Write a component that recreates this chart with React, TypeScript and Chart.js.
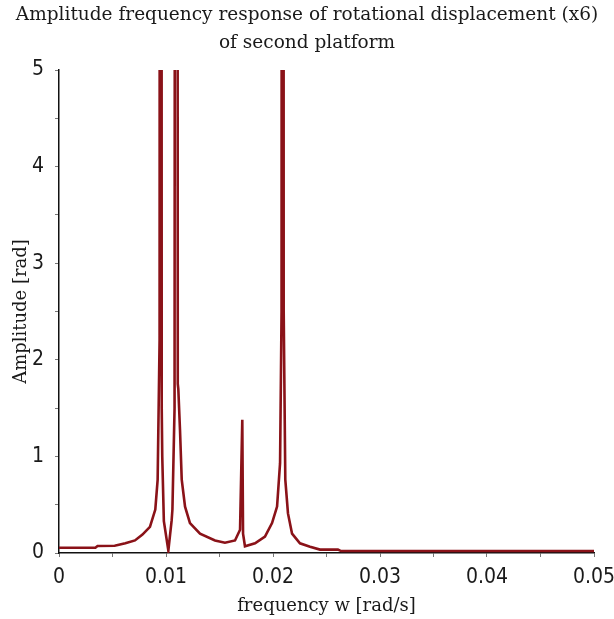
import React, { useEffect, useRef } from "react";
import { Chart, registerables } from "chart.js";

Chart.register(...registerables);

const titleLines = [
  "Amplitude frequency response of rotational displacement (x6)",
  "of second platform",
];
const xAxisTitle = "frequency w [rad/s]";
const yAxisTitle = "Amplitude [rad]";

const xTickValues = [0, 0.01, 0.02, 0.03, 0.04, 0.05];
const xTickLabels = ["0", "0.01", "0.02", "0.03", "0.04", "0.05"];
const yTickValues = [0, 1, 2, 3, 4, 5];
const yTickLabels = ["0", "1", "2", "3", "4", "5"];

// frequency w [rad/s]
const frequency = [
  0, 0.0034, 0.0036, 0.0052, 0.0062, 0.0071, 0.0078, 0.0085, 0.009, 0.00922,
  0.0094, 0.0095, 0.0096, 0.00965, 0.0098, 0.01022, 0.01053, 0.0106, 0.0108,
  0.01098, 0.0111, 0.01115, 0.01131, 0.01147, 0.01178, 0.01224, 0.01318,
  0.01458, 0.01551, 0.01645, 0.01692, 0.01713, 0.0172, 0.01738,
  0.01832, 0.01925, 0.01991, 0.02038, 0.02066, 0.0208, 0.0209, 0.021, 0.02115,
  0.0214, 0.02178, 0.02252, 0.02346, 0.02439, 0.02607, 0.02636, 0.05,
];
// amplitude [rad]
const amplitude = [
  0.055, 0.055, 0.073, 0.075, 0.1, 0.13, 0.19, 0.27, 0.45, 0.76,
  2.2, 40, 1.5, 1.0, 0.33, 0.025, 0.34, 0.45, 1.5,
  40, 1.75, 1.7, 1.27, 0.76, 0.48, 0.31, 0.2,
  0.13, 0.107, 0.13, 0.24, 1.38, 0.2, 0.07,
  0.1, 0.17, 0.31, 0.48, 0.93, 2.5, 40, 2.5, 0.76,
  0.41, 0.2, 0.1, 0.065, 0.035, 0.035, 0.02, 0.02,
];

const serif = "'DejaVu Serif', serif";
const narrow = "'Liberation Sans Narrow', 'DejaVu Sans Condensed', sans-serif";

function labelFor(v: number, values: number[], labels: string[]) {
  for (let i = 0; i < values.length; i++) {
    if (Math.abs(v - values[i]) < 1e-9) return labels[i];
  }
  return "";
}

export default function App() {
  const ref = useRef<HTMLCanvasElement | null>(null);

  useEffect(() => {
    if (!ref.current) return;
    const points = frequency.map((f, i) => ({ x: f, y: amplitude[i] }));
    const chart = new Chart(ref.current, {
      type: "line",
      data: {
        datasets: [
          {
            data: points,
            borderColor: "#8a1218",
            borderWidth: 2.6,
            pointRadius: 0,
            tension: 0,
            fill: false,
          },
        ],
      },
      options: {
        animation: false,
        responsive: false,
        maintainAspectRatio: false,
        layout: { padding: { left: 0, right: 0, top: 0, bottom: 0 } },
        plugins: {
          legend: { display: false },
          tooltip: { enabled: false },
          title: {
            display: true,
            text: titleLines,
            color: "#1a1a1a",
            font: { family: serif, size: 18.5, weight: "normal", lineHeight: 1.5 },
            padding: { top: 1.5, bottom: 13 },
          },
        },
        scales: {
          x: {
            type: "linear",
            min: 0,
            max: 0.05,
            afterFit: (s: any) => {
              s.height = 66;
              s.paddingLeft = 0;
              s.paddingRight = 20;
            },
            ticks: {
              stepSize: 0.005,
              autoSkip: false,
              maxRotation: 0,
              padding: 8,
              color: "#1a1a1a",
              font: { family: narrow, size: 21 },
              callback: (v: any) => labelFor(Number(v), xTickValues, xTickLabels),
            },
            grid: {
              drawOnChartArea: false,
              drawTicks: true,
              tickLength: 4,
              color: "#777",
            },
            border: { display: true, color: "#111", width: 1.5 },
            title: {
              display: true,
              text: xAxisTitle,
              color: "#1a1a1a",
              font: { family: serif, size: 18, lineHeight: 1.2 },
              padding: { top: 0, bottom: 2 },
            },
          },
          y: {
            type: "linear",
            min: 0,
            max: 5,
            afterFit: (s: any) => {
              s.width = 59;
              s.paddingTop = 0;
              s.paddingBottom = 0;
            },
            ticks: {
              stepSize: 0.5,
              autoSkip: false,
              padding: 11,
              color: "#1a1a1a",
              font: { family: narrow, size: 21 },
              callback: (v: any) => labelFor(Number(v), yTickValues, yTickLabels),
            },
            grid: {
              drawOnChartArea: false,
              drawTicks: true,
              tickLength: 4,
              color: "#777",
            },
            border: { display: true, color: "#111", width: 1.5 },
            title: {
              display: true,
              text: yAxisTitle,
              color: "#1a1a1a",
              font: { family: serif, size: 18, lineHeight: 1.2 },
              padding: { top: 11, bottom: 0 },
            },
          },
        },
      },
    });
    return () => chart.destroy();
  }, []);

  return (
    <div style={{ position: "absolute", left: 0, top: 0, width: 614, height: 619, background: "#fff" }}>
      <canvas ref={ref} width={614} height={619} style={{ display: "block" }} />
    </div>
  );
}
